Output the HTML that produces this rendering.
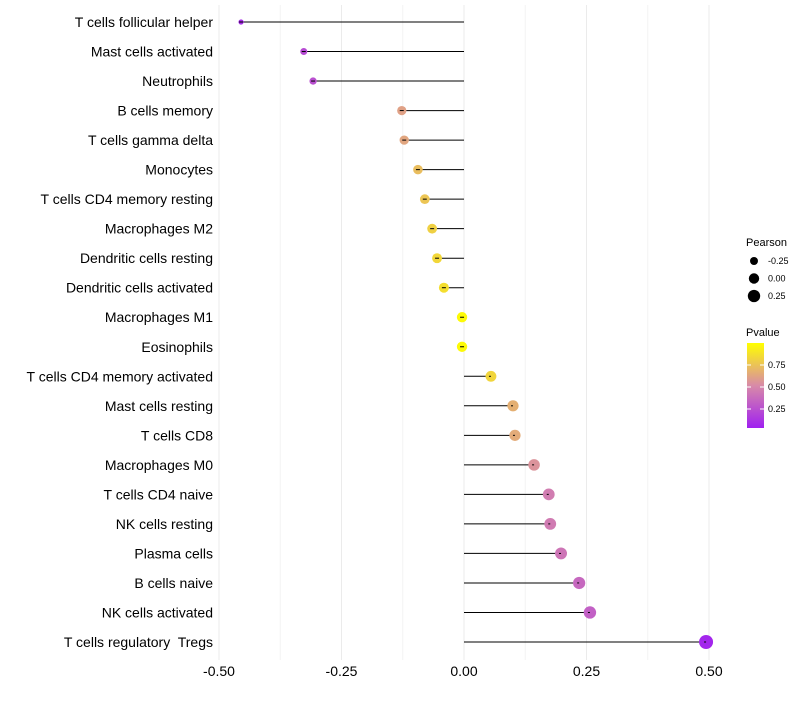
<!DOCTYPE html>
<html><head><meta charset="utf-8"><style>
body{margin:0;background:#fff;font-family:"Liberation Sans",sans-serif}
svg text{font-family:"Liberation Sans",sans-serif;white-space:pre}
</style></head><body>
<svg id="c" width="800" height="700" xmlns="http://www.w3.org/2000/svg">
<g id="grid"></g>
<g id="marks"></g>
<g id="labels"></g>
<g id="xt"></g>
<g id="legend">
<text x="746" y="246" font-size="11">Pearson</text>
<text x="746" y="336" font-size="11">Pvalue</text>
<defs><linearGradient id="pg" x1="0" y1="1" x2="0" y2="0">
<stop offset="0" stop-color="#a020f0"/><stop offset="0.5" stop-color="#d88aa8"/><stop offset="1" stop-color="#ffff00"/></linearGradient></defs>
<rect x="747" y="343" width="17" height="85" fill="url(#pg)"/>
</g>
</svg>
<script>
const categories=["T cells follicular helper","Mast cells activated","Neutrophils","B cells memory","T cells gamma delta","Monocytes","T cells CD4 memory resting","Macrophages M2","Dendritic cells resting","Dendritic cells activated","Macrophages M1","Eosinophils","T cells CD4 memory activated","Mast cells resting","T cells CD8","Macrophages M0","T cells CD4 naive","NK cells resting","Plasma cells","B cells naive","NK cells activated","T cells regulatory  Tregs"];
const pearson=[-0.455,-0.327,-0.308,-0.127,-0.122,-0.094,-0.080,-0.065,-0.055,-0.041,-0.004,-0.004,0.055,0.100,0.104,0.143,0.173,0.176,0.198,0.235,0.257,0.494];
const pvalue=[0.05,0.2,0.22,0.6,0.62,0.72,0.75,0.8,0.83,0.86,0.98,0.98,0.82,0.66,0.64,0.54,0.44,0.43,0.40,0.34,0.30,0.03];
const xTicks=[-0.5,-0.25,0,0.25,0.5];
const xTickLabels=["-0.50","-0.25","0.00","0.25","0.50"];
const sizeTicks=[-0.25,0,0.25];
const pTicks=[0.25,0.5,0.75];
const NS="http://www.w3.org/2000/svg";
const X=v=>464+v*490;
const Y=i=>22+i*(620/21);
const R=v=>Math.sqrt(Math.max(3,27+44.5*v));
const PY=p=>343+(1-p)*88;
function col(p){const s=[[0,[160,32,240]],[0.5,[216,138,168]],[1,[255,255,0]]];let a=s[0],b=s[1];if(p>0.5){a=s[1];b=s[2];}const t=(p-a[0])/(b[0]-a[0]);return 'rgb('+a[1].map((c,k)=>Math.round(c+(b[1][k]-c)*t)).join(',')+')';}
function el(t,at,parent,txt){const e=document.createElementNS(NS,t);for(const k in at)e.setAttribute(k,at[k]);if(txt!==undefined)e.textContent=txt;document.getElementById(parent).appendChild(e);return e;}
[-0.375,-0.125,0.125,0.375].forEach(v=>{const g=el('line',{x1:X(v),x2:X(v),y1:5,y2:660,stroke:'#f4f4f4','stroke-width':1},'grid');

});
xTicks.forEach((v,i)=>{const g=el('line',{x1:X(v),x2:X(v),y1:5,y2:660,stroke:'#ebebeb','stroke-width':1},'grid');


const t=el('text',{x:X(v),y:676,'font-size':14,'text-anchor':'middle',fill:'#000'},'xt',xTickLabels[i]);

});
categories.forEach((c,i)=>{const y=Y(i);
const t=el('text',{x:213,y:y+5,'font-size':14,'text-anchor':'end',fill:'#000'},'labels',c);


const l=el('line',{x1:X(0),x2:X(pearson[i]),y1:y,y2:y,stroke:'#000','stroke-width':1},'marks');


const d=el('circle',{cx:X(pearson[i]),cy:y,r:R(pearson[i]),fill:col(pvalue[i])},'marks');


const l2=el('line',{x1:X(pearson[i])-2,x2:X(pearson[i])+(pearson[i]<0?2:0),y1:y,y2:y,stroke:'#000','stroke-width':1},'marks');

});
sizeTicks.forEach((v,i)=>{const y=261+i*17.5;
const d=el('circle',{cx:754,cy:y,r:R(v),fill:'#000'},'legend');


const t=el('text',{x:768,y:y+3,'font-size':9},'legend',v.toFixed(2));

});
pTicks.forEach(p=>{const y=PY(p);
const k=el('line',{x1:747,x2:751,y1:y,y2:y,stroke:'#fff'},'legend');


const k2=el('line',{x1:760,x2:764,y1:y,y2:y,stroke:'#fff'},'legend');


const t=el('text',{x:768,y:y+3,'font-size':9},'legend',p.toFixed(2));

});
</script>
</body></html>
